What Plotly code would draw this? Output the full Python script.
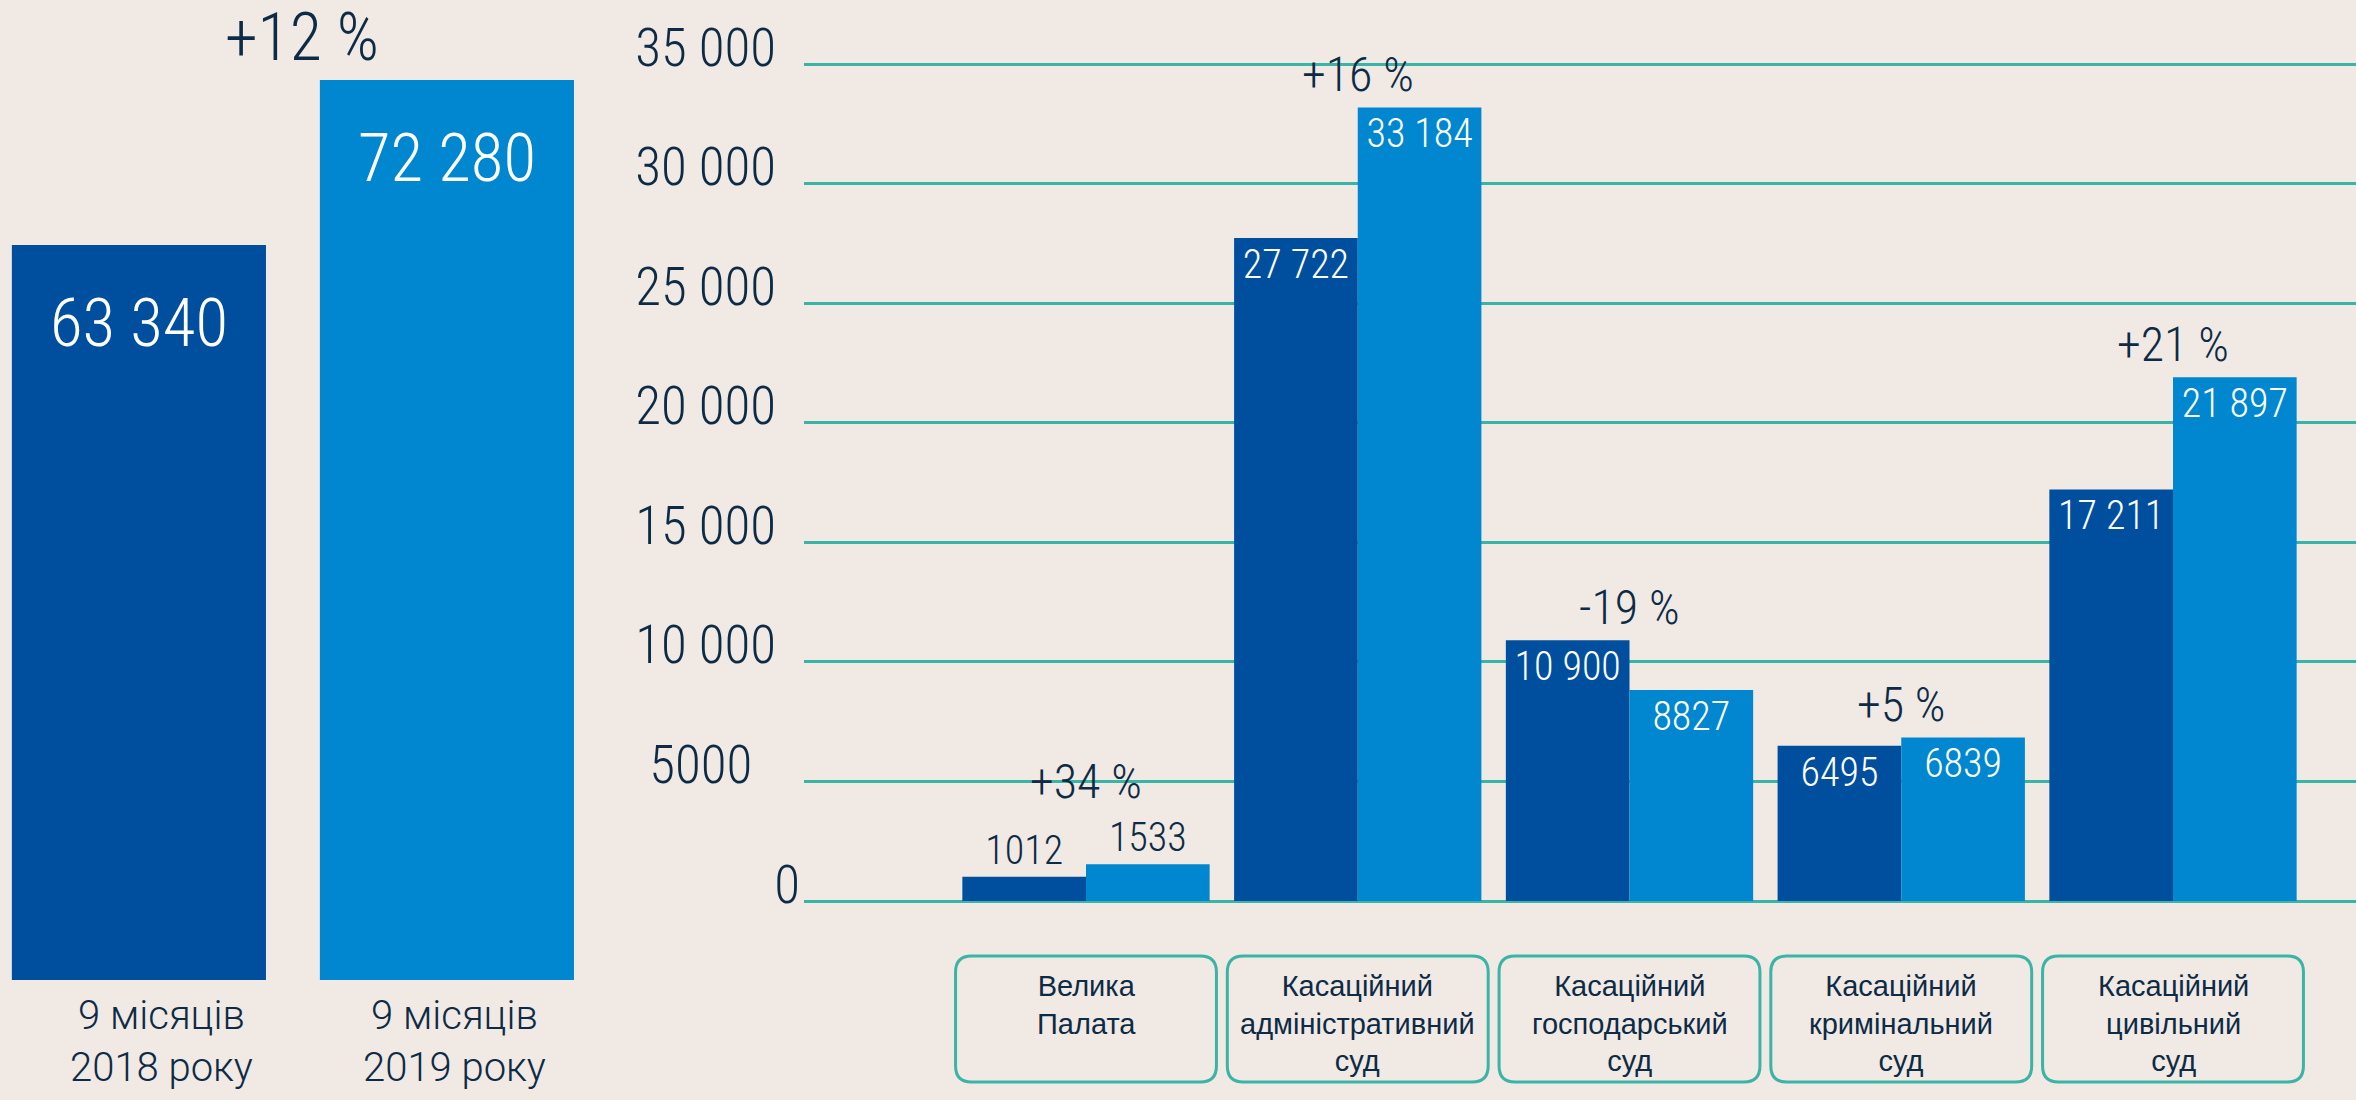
import plotly.graph_objects as go

# ---- data ----
periods = ["9 місяців<br>2018 року", "9 місяців<br>2019 року"]
totals = [63340, 72280]
total_change = "+12 %"

courts = [
    "Велика<br>Палата",
    "Касаційний<br>адміністративний<br>суд",
    "Касаційний<br>господарський<br>суд",
    "Касаційний<br>кримінальний<br>суд",
    "Касаційний<br>цивільний<br>суд",
]
cases_2018 = [1012, 27722, 10900, 6495, 17211]
cases_2019 = [1533, 33184, 8827, 6839, 21897]
changes = ["+34 %", "+16 %", "-19 %", "+5 %", "+21 %"]

tick_vals = [0, 5000, 10000, 15000, 20000, 25000, 30000, 35000]
tick_text = ["0", "5000", "10 000", "15 000", "20 000", "25 000", "30 000", "35 000"]

## style ##
W, H = 2356, 1100
BG = "#F0E9E4"
DARK = "#004F9F"
LIGHT = "#0087CF"
TEAL = "#3AB5A5"
NAVY = "#0D2B45"
COND = "Roboto Condensed, Liberation Sans Narrow, Arial Narrow, sans-serif"

Y2_RANGE = [-376, 36004]
Y2_DOMAIN = [1 - 910 / H, 1 - 40 / H]
px_per_unit = (Y2_DOMAIN[1] - Y2_DOMAIN[0]) * H / (Y2_RANGE[1] - Y2_RANGE[0])


def fmt(v):
    # 5-digit numbers get a space as thousands separator
    return f"{v:,}".replace(",", " ") if v >= 10000 else str(v)


def pad_tick(t):
    # the source artwork sets the tick labels a bit ragged
    if t == "0":
        return t
    n = 4 if len(t) == 4 else 2
    return t + "\u00a0" * n


def rounded_box(x0, x1, y0, y1, rx, ry):
    return (
        f"M {x0 + rx},{y0} L {x1 - rx},{y0} Q {x1},{y0} {x1},{y0 + ry} "
        f"L {x1},{y1 - ry} Q {x1},{y1} {x1 - rx},{y1} "
        f"L {x0 + rx},{y1} Q {x0},{y1} {x0},{y1 - ry} "
        f"L {x0},{y0 + ry} Q {x0},{y0} {x0 + rx},{y0} Z"
    )


fig = go.Figure()

# left panel: totals
fig.add_trace(
    go.Bar(
        x=[0, 1],
        y=totals,
        width=0.825,
        marker=dict(color=[DARK, LIGHT], line=dict(width=0)),
        xaxis="x",
        yaxis="y",
        hoverinfo="y",
    )
)

# right panel: by court
for vals, color, off, name in [
    (cases_2018, DARK, -0.455, "2018"),
    (cases_2019, LIGHT, 0.0, "2019"),
]:
    fig.add_trace(
        go.Bar(
            x=list(range(len(courts))),
            y=vals,
            name=name,
            width=0.455,
            offset=off,
            marker=dict(color=color, line=dict(width=0)),
            text=[fmt(v) for v in vals],
            textposition="auto",
            insidetextanchor="end",
            textangle=0,
            constraintext="none",
            insidetextfont=dict(family=COND, size=40, color="white", weight=300),
            outsidetextfont=dict(family=COND, size=40, color=NAVY, weight=300),
            cliponaxis=False,
            xaxis="x2",
            yaxis="y2",
            hoverinfo="y",
        )
    )

annotations = []
# left labels
for i, v in enumerate(totals):
    annotations.append(
        dict(xref="x", yref="y", x=i, y=v, yanchor="middle", yshift=-78,
             text=fmt(v), showarrow=False,
             font=dict(family=COND, size=67, color="white", weight=300))
    )
for i, (p, dx) in enumerate(zip(periods, [23, 8])):
    annotations.append(
        dict(xref="x", yref="paper", x=i, xshift=dx, y=1 - 990 / H, yanchor="top",
             text=p, showarrow=False,
             font=dict(family="Roboto, sans-serif", size=40, color=NAVY, weight=300))
    )
annotations.append(
    dict(xref="x", yref="y", x=0.5, xshift=9, y=max(totals), yanchor="middle",
         yshift=42, text=total_change, showarrow=False,
         font=dict(family=COND, size=66, color=NAVY, weight=300))
)
# right labels
for i, ch in enumerate(changes):
    top = max(cases_2018[i], cases_2019[i])
    # lift it over the value label when that label sits outside a short bar
    lift = 50 if top * px_per_unit < 55 else 0
    annotations.append(
        dict(xref="x2", yref="y2", x=i, y=top,
             yanchor="bottom", yshift=2 + lift, text=ch, showarrow=False,
             font=dict(family=COND, size=48, color=NAVY, weight=300))
    )
shapes = []
for i, c in enumerate(courts):
    annotations.append(
        dict(xref="x2", yref="paper", x=i, y=1 - 968 / H, yanchor="top",
             text=c, showarrow=False,
             font=dict(family="Liberation Sans, Arial, sans-serif", size=29, color=NAVY))
    )
    shapes.append(
        dict(type="path", xref="x2", yref="paper", layer="above",
             path=rounded_box(i - 0.48, i + 0.48, 1 - 1082 / H, 1 - 956 / H, 16 / 271.75, 16 / H),
             line=dict(color=TEAL, width=3), fillcolor="rgba(0,0,0,0)")
    )

fig.update_layout(
    width=W,
    height=H,
    margin=dict(l=0, r=0, t=0, b=0),
    paper_bgcolor=BG,
    plot_bgcolor=BG,
    showlegend=False,
    xaxis=dict(domain=[0, 600 / W], range=[-0.451, 1.497], visible=False, automargin=False),
    yaxis=dict(domain=[1 - 980 / H, 1], range=[23516, 76614], visible=False, automargin=False),
    xaxis2=dict(
        domain=[804 / W, 1],
        range=[-1.0377, 4.6734],
        anchor="y2",
        showticklabels=False,
        showgrid=False,
        zeroline=False,
        automargin=False,
    ),
    yaxis2=dict(
        domain=Y2_DOMAIN,
        range=Y2_RANGE,
        anchor="x2",
        tickvals=tick_vals,
        ticktext=[pad_tick(t) for t in tick_text],
        showgrid=True,
        gridcolor=TEAL,
        gridwidth=3,
        zeroline=False,
        ticks="",
        ticklabelposition="outside",
        ticklabelshift=-17,
        ticklabelstandoff=3,
        ticklabeloverflow="allow",
        automargin=False,
        tickfont=dict(family=COND, size=53, color=NAVY, weight=300),
    ),
    annotations=annotations,
    shapes=shapes,
)

fig.write_html(
    "out.html",
    config={"displayModeBar": False},
    post_script="document.body.style.margin = '0';",
)
